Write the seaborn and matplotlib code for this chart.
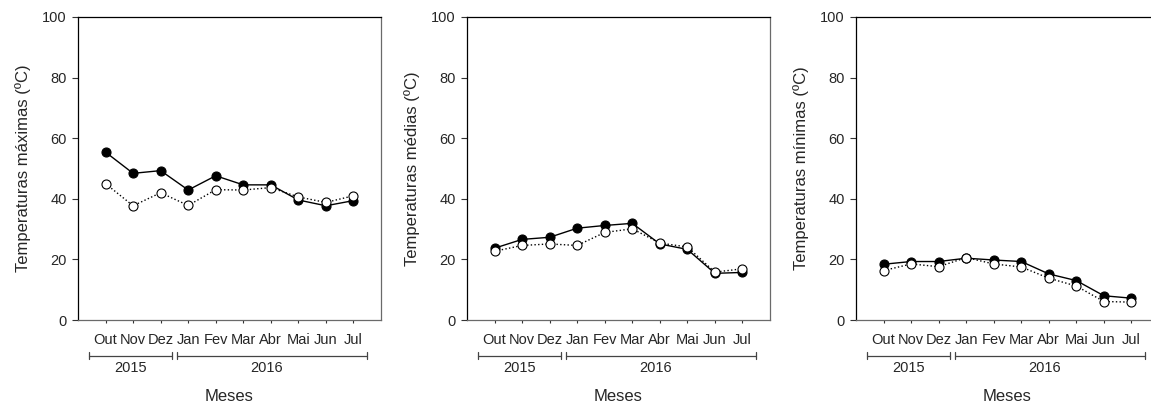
import numpy as np
import pandas as pd
import matplotlib
matplotlib.use("Agg")
import matplotlib.pyplot as plt
import matplotlib.transforms as mtransforms
import seaborn as sns

# ---------------- data ----------------
months = ["Out", "Nov", "Dez", "Jan", "Fev", "Mar", "Abr", "Mai", "Jun", "Jul"]
years = ["2015", "2016"]
ylabels = ["Temperaturas máximas (ºC)", "Temperaturas médias (ºC)", "Temperaturas mínimas (ºC)"]
xlabel = "Meses"

max_filled = [55.4, 48.4, 49.3, 42.9, 47.6, 44.6, 44.6, 39.6, 37.7, 39.4]
max_open = [45.0, 37.7, 42.0, 37.8, 43.0, 42.9, 43.7, 40.6, 38.8, 41.0]

med_filled = [23.7, 26.6, 27.3, 30.3, 31.2, 31.9, 25.1, 23.3, 15.4, 15.7]
med_open = [22.7, 24.6, 25.1, 24.6, 28.9, 30.1, 25.4, 24.1, 15.8, 16.9]

min_filled = [18.4, 19.3, 19.3, 20.4, 19.8, 19.3, 15.2, 13.0, 8.0, 7.2]
min_open = [16.3, 18.5, 17.6, 20.6, 18.5, 17.5, 13.8, 11.2, 6.1, 5.9]

panels = [(max_filled, max_open), (med_filled, med_open), (min_filled, min_open)]

# ---------------- style ----------------
sns.set_style("white")
plt.rcParams["font.family"] = ["Liberation Sans", "DejaVu Sans"]

W, H = 1151, 409
fig = plt.figure(figsize=(W / 100, H / 100), dpi=100)

ax_w = 303
ax_h = 303
lefts = [78, 467, 856]
top_px = 17

x = np.arange(len(months))
for i, (filled, opened) in enumerate(panels):
    ax = fig.add_axes([lefts[i] / W, (H - top_px - ax_h) / H, ax_w / W, ax_h / H])
    df = pd.DataFrame({"pos": x, "filled": filled, "open": opened})
    sns.lineplot(data=df, x="pos", y="filled", ax=ax, color="black", lw=1.0,
                 marker="o", markersize=6.5, markerfacecolor="black",
                 markeredgecolor="black", markeredgewidth=0.8, linestyle="-",
                 zorder=3)
    sns.lineplot(data=df, x="pos", y="open", ax=ax, color="black", lw=1.0,
                 marker="o", markersize=6.5, markerfacecolor="white",
                 markeredgecolor="black", markeredgewidth=0.8, linestyle=":",
                 zorder=4)
    ax.set_xlim(-1, 10)
    ax.set_ylim(0, 100)
    ax.set_yticks([0, 20, 40, 60, 80, 100])
    ax.set_xticks(x)
    ax.set_xticklabels(months)
    ax.tick_params(axis="y", direction="out", length=4.2, width=0.8, pad=4,
                   labelsize=10.5, left=True, color="#333333")
    ax.tick_params(axis="x", direction="out", length=2.4, width=0.8, pad=7,
                   labelsize=10.5, bottom=True, color="#333333")
    for s in ["left", "top"]:
        ax.spines[s].set_color("black")
        ax.spines[s].set_linewidth(0.9)
    for s in ["right", "bottom"]:
        ax.spines[s].set_color("#6a6a6a")
        ax.spines[s].set_linewidth(0.9)
    ax.set_xlabel("")
    ax.set_ylabel(ylabels[i], fontsize=12)
    ax.yaxis.set_label_coords(-0.155, 0.5)

    # year brackets
    trans = mtransforms.blended_transform_factory(ax.transData, ax.transAxes)
    yb = -0.118
    cap = 0.011
    for (x0, x1), yr in zip([(-0.61, 2.41), (2.58, 9.49)], years):
        ax.plot([x0, x1], [yb, yb], transform=trans, color="#444444", lw=0.9,
                clip_on=False)
        for xe in (x0, x1):
            ax.plot([xe, xe], [yb - cap, yb + cap], transform=trans,
                    color="#444444", lw=0.9, clip_on=False)
        ax.text((x0 + x1) / 2 if yr == years[0] else 5.85, -0.158, yr,
                transform=trans, ha="center", va="center", fontsize=10.5)
    ax.text(0.5, -0.254, xlabel, transform=ax.transAxes, ha="center",
            va="center", fontsize=12)

fig.savefig("out.png", dpi=100)
